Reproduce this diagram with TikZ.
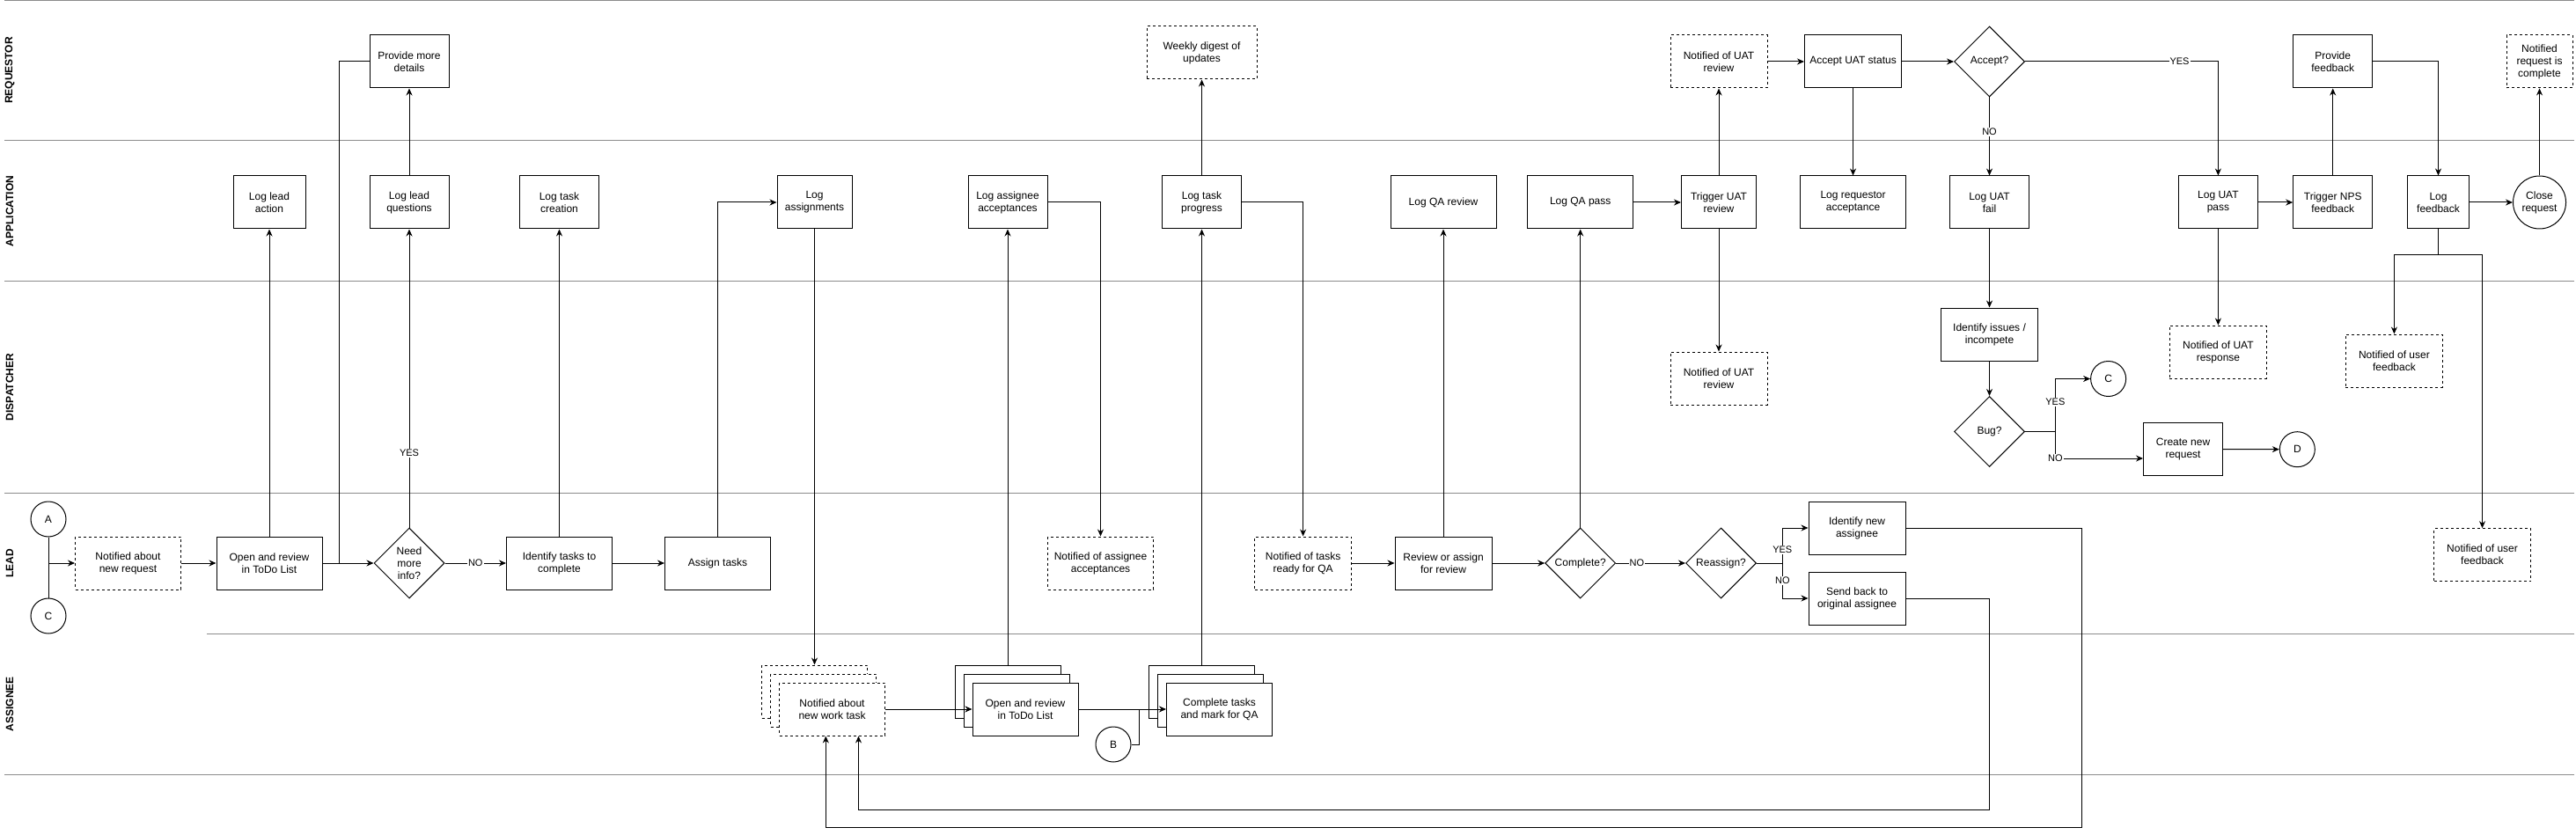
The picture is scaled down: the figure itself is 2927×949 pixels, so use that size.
\documentclass[tikz,border=0pt]{standalone}
\usepackage{fontspec}
\setmainfont{Liberation Sans}
\usetikzlibrary{shapes.geometric,arrows.meta}
\tikzset{
  lane/.style={draw=gray!90},
  lanename/.style={rotate=90, font=\bfseries\fontsize{12}{14}\selectfont},
  box/.style={draw, fill=white, align=center, minimum width=#1, minimum height=60pt, inner sep=2pt, font=\fontsize{12}{14}\selectfont},
  box/.default=90pt,
  note/.style={box=#1, dashed},
  note/.default=110pt,
  choice/.style={draw, fill=white, diamond, aspect=1, minimum size=80pt, inner sep=0pt, align=center, font=\fontsize{12}{14}\selectfont},
  link/.style={draw, fill=white, circle, minimum size=#1, inner sep=1pt, align=center, font=\fontsize{12}{14}\selectfont},
  link/.default=40pt,
  lbl/.style={fill=white, inner sep=1pt, font=\fontsize{11}{13}\selectfont}
}
\begin{document}
\begin{tikzpicture}[x=1pt,y=-1pt,line width=1pt,>={Stealth[length=8pt,width=7pt]}]
\useasboundingbox (0,0) rectangle (2927,949);
\draw[lane] (5,0.5) -- (2925,0.5);
\draw[lane] (5,160) -- (2925,160);
\draw[lane] (5,320) -- (2925,320);
\draw[lane] (5,560) -- (2925,560);
\draw[lane] (235,720) -- (2925,720);
\draw[lane] (5,880) -- (2925,880);
\node[lanename] (requestor) at (11,80) {REQUESTOR};
\node[lanename] (application) at (11,240) {APPLICATION};
\node[lanename] (dispatcher) at (11,440) {DISPATCHER};
\node[lanename] (lead) at (11,640) {LEAD};
\node[lanename] (assignee) at (11,800) {ASSIGNEE};

\node[link] (acirc) at (55,590) {A};
\node[link] (ccirc) at (55,700) {C};
\node[note=120pt] (notreq) at (145.5,640) {Notified about\\new request};
\node[box=120pt] (openrev) at (306,640) {Open and review\\in ToDo List};
\node[choice] (needinfo) at (465,640) {Need\\more\\info?};
\node[box=120pt] (identtasks) at (635.5,640) {Identify tasks to\\complete};
\node[box=120pt] (assign) at (815.5,640) {Assign tasks};
\node[box=82pt] (loglead) at (306,230) {Log lead\\action};
\node[box] (logq) at (465,230) {Log lead\\questions};
\node[box] (more) at (465,70) {Provide more\\details};
\node[box] (logtask) at (635.5,230) {Log task\\creation};
\node[box=85pt] (logassign) at (925.5,230) {Log\\assignments};
\node[note=120pt] (newtaskb) at (925.5,786) {};
\node[note=120pt] (newtaskm) at (935.5,796) {};
\node[note=120pt] (newtask) at (945.5,806) {Notified about\\new work task};
\node[box=120pt] (openrevb) at (1145,786) {};
\node[box=120pt] (openrevm) at (1155,796) {};
\node[box=120pt] (openrev2) at (1165,806) {Open and review\\in ToDo List};
\node[box] (logacc) at (1145,230) {Log assignee\\acceptances};
\node[note=120pt] (notacc) at (1250.5,640) {Notified of assignee\\acceptances};
\node[link] (bcirc) at (1265,846) {B};
\node[box=120pt] (donetasksb) at (1365.5,786) {};
\node[box=120pt] (donetasksm) at (1375.5,796) {};
\node[box=120pt] (donetasks) at (1385.5,806) {Complete tasks\\and mark for QA};
\node[box] (logprog) at (1365.5,230) {Log task\\progress};
\node[note=125pt] (digest) at (1365.5,60) {Weekly digest of\\updates};
\node[note] (notqa) at (1480.6,640) {Notified of tasks\\ready for QA};
\node[box=110pt] (review) at (1640,640) {Review or assign\\for review};
\node[box=120pt] (logqarev) at (1640,230) {Log QA review};
\node[choice] (complete) at (1795.7,640) {Complete?};
\node[box=120pt] (logqapass) at (1795.7,230) {Log QA pass};
\node[choice] (reassign) at (1955.5,640) {Reassign?};
\node[box=110pt] (newassignee) at (2110,600) {Identify new\\assignee};
\node[box=110pt] (sendback) at (2110,680) {Send back to\\original assignee};
\node[box=85pt] (triguat) at (1953,230) {Trigger UAT\\review};
\node[note] (uatreq) at (1953,70) {Notified of UAT\\review};
\node[note] (uatdisp) at (1953,430) {Notified of UAT\\review};
\node[box=110pt] (acceptuat) at (2105.5,70) {Accept UAT status};
\node[box=120pt] (logreqacc) at (2105.5,230) {Log requestor\\acceptance};
\node[choice] (accept) at (2260.5,70) {Accept?};
\node[box] (logfail) at (2260.5,230) {Log UAT\\fail};
\node[box=110pt] (identify) at (2260.5,380) {Identify issues /\\incompete};
\node[choice] (bug) at (2260.5,490.5) {Bug?};
\node[link] (cdisp) at (2395.6,430.5) {C};
\node[box] (newreq) at (2480.5,510.5) {Create new\\request};
\node[link] (dcirc) at (2610.3,510.7) {D};
\node[box] (logpass) at (2520.4,230) {Log UAT\\pass};
\node[note] (uatresp) at (2520.4,400) {Notified of UAT\\response};
\node[box] (trignps) at (2650.7,230) {Trigger NPS\\feedback};
\node[box] (provfb) at (2650.7,70) {Provide\\feedback};
\node[box=70pt] (logfb) at (2770.5,230) {Log\\feedback};
\node[link=60pt] (close) at (2885.5,230) {Close\\request};
\node[note=75pt] (reqdone) at (2885.5,70) {Notified\\request is\\complete};
\node[note] (userfb1) at (2720.4,410) {Notified of user\\feedback};
\node[note] (userfb2) at (2820.5,630.7) {Notified of user\\feedback};

\coordinate (morejoin) at (385,640);
\coordinate (bjoin) at (1294.4,806);
\coordinate (rsplit) at (2025.3,640);
\coordinate (bsplit) at (2335.3,490.5);
\coordinate (fbsplit) at (2770.5,290);

\draw (acirc) -- (ccirc);
\draw[->] (acirc |- notreq) -- (notreq);
\draw[->] (notreq) -- (openrev);
\draw[->] (openrev) -- (needinfo);
\draw[->] (openrev) -- (loglead);
\draw[->] (needinfo) -- node[lbl,pos=0.25] {YES} (logq);
\draw[->] (logq) -- (more);
\draw (more) -| (morejoin);
\draw[->] (needinfo) -- node[lbl] {NO} (identtasks);
\draw[->] (identtasks) -- (logtask);
\draw[->] (identtasks) -- (assign);
\draw[->] (assign) |- (logassign);
\draw[->] (logassign) -- (newtaskb);
\draw[->] (newtask) -- (openrev2);
\draw[->] (openrevb) -- (logacc);
\draw[->] (logacc) -| (notacc);
\draw[->] (openrev2) -- (donetasks);
\draw (bcirc) -| (bjoin);
\draw[->] (donetasksb) -- (logprog);
\draw[->] (logprog) -- (digest);
\draw[->] (logprog) -| (notqa);
\draw[->] (notqa) -- (review);
\draw[->] (review) -- (logqarev);
\draw[->] (review) -- (complete);
\draw[->] (complete) -- (logqapass);
\draw[->] (complete) -- node[lbl,pos=0.3] {NO} (reassign);
\draw (reassign) -- (rsplit);
\draw[->] (rsplit) |- node[lbl,pos=0.19] {YES} (newassignee);
\draw[->] (rsplit) |- node[lbl,pos=0.25] {NO} (sendback);
\draw[->] (logqapass) -- (triguat);
\draw[->] (triguat) -- (uatreq);
\draw[->] (triguat) -- (uatdisp);
\draw[->] (uatreq) -- (acceptuat);
\draw[->] (acceptuat) -- (logreqacc);
\draw[->] (acceptuat) -- (accept);
\draw[->] (accept) -- node[lbl,pos=0.44] {NO} (logfail);
\draw[->] (accept) -| node[lbl,pos=0.4] {YES} (logpass);
\draw[->] (logfail) -- (identify);
\draw[->] (identify) -- (bug);
\draw (bug) -- (bsplit);
\draw[->] (bsplit) |- node[lbl,pos=0.28] {YES} (cdisp);
\draw[->] (bsplit) |- node[lbl,pos=0.5] {NO} ([yshift=-10.5pt]newreq.west);
\draw[->] (newreq) -- (dcirc);
\draw[->] (logpass) -- (uatresp);
\draw[->] (logpass) -- (trignps);
\draw[->] (trignps) -- (provfb);
\draw[->] (provfb) -| (logfb);
\draw[->] (logfb) -- (close);
\draw[->] (close) -- (reqdone);
\draw (logfb) -- (fbsplit);
\draw[->] (fbsplit) -| (userfb1);
\draw[->] (fbsplit) -| (userfb2);
\draw[->] (newassignee) -| (2365.6,940) -| ([xshift=-7.2pt]newtask.south);
\draw[->] (sendback) -| (2260,920) -| ([xshift=30pt]newtask.south);
\end{tikzpicture}
\end{document}
